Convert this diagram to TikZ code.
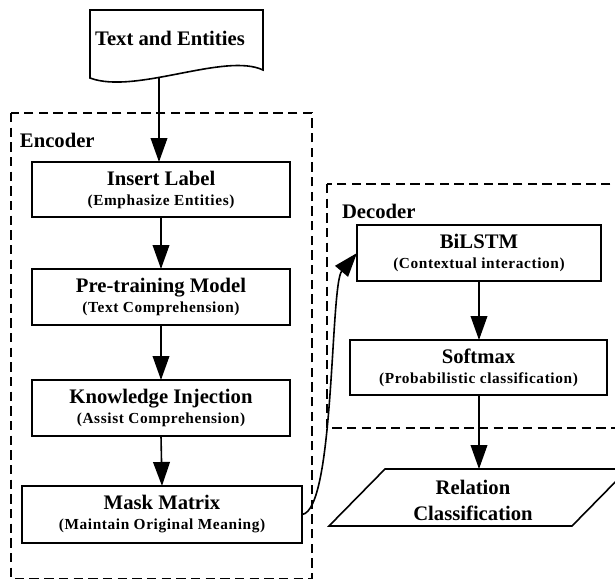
\documentclass[tikz,border=0pt]{standalone}
\usepackage{fontspec}
\setmainfont{Liberation Serif}
\newfontfamily\subfont[LetterSpace=4]{Liberation Serif}
\usetikzlibrary{arrows.meta}
\newcommand\subt[1]{{\subfont\bfseries\fontsize{11.5}{12}\selectfont #1}}
\begin{document}
\begin{tikzpicture}[x=0.75pt,y=-0.75pt,
  font=\bfseries\fontsize{15.5}{15}\selectfont,
  every node/.style={inner sep=0pt,outer sep=0pt},
  stepbox/.style={draw,line width=1.2pt,align=center},
  grp/.style={draw,line width=1.1pt,dash pattern=on 7pt off 4pt},
  flow/.style={line width=1.2pt,-{Triangle[length=18pt,width=12.5pt]}},
  shp/.style={draw,line width=1.2pt,line join=miter}]
\useasboundingbox (0,0) rectangle (615,579);
\clip (0,0) rectangle (615,579);

% groups
\draw[grp] (11,113) rectangle (312,578.5);
\draw[grp] (327,184) rectangle (650,428);
\node[anchor=west] (enc) at (20,140) {Encoder};
\node[anchor=west] (dec) at (342,211) {Decoder};

% document shape
\draw[shp] (90,10) -- (263,10) -- (263,70) .. controls (225,52) and (135,95) .. (90,78) -- cycle;
\node (tae) at (170,38) {Text and Entities};
\coordinate (docb) at (159,77);

% encoder boxes
\node[stepbox,minimum width=193.5pt,minimum height=41.25pt] (ins) at (161,189.5)
  {Insert Label\\[0pt]\subt{(Emphasize Entities)}};
\node[stepbox,minimum width=193.5pt,minimum height=42pt] (pre) at (161,297)
  {Pre-training Model\\[0pt]\subt{(Text Comprehension)}};
\node[stepbox,minimum width=193.5pt,minimum height=42pt] (kno) at (161,408)
  {Knowledge Injection\\[0pt]\subt{(Assist Comprehension)}};
\node[stepbox,minimum width=210pt,minimum height=42.75pt] (mask) at (162,514.5)
  {Mask Matrix\\[0pt]\subt{(Maintain Original Meaning)}};

% decoder boxes
\node[stepbox,minimum width=183pt,minimum height=42pt] (bil) at (479,253)
  {BiLSTM\\[0pt]\subt{(Contextual interaction)}};
\node[stepbox,minimum width=192.75pt,minimum height=41.25pt] (soft) at (478.5,367.5)
  {Softmax\\[0pt]\subt{(Probabilistic classification)}};

% output parallelogram
\draw[shp] (385,469) -- (628,469) -- (572,526) -- (329,526) -- cycle;
\node[align=center] (rel) at (473,500) {Relation\\[4.5pt]Classification};
\coordinate (relt) at (479,469);

% connectors
\draw[flow] (docb) -- (docb |- ins.north);
\draw[flow] (ins.south) -- (pre.north);
\draw[flow] (pre.south) -- (kno.north);
\draw[flow] (kno.south) -- (mask.north);
\draw[flow] (mask.east) .. controls +(33,-4) and +(-27,32) .. (bil.west);
\draw[flow] (bil.south) -- (bil.south |- soft.north);
\draw[flow] (relt |- soft.south) -- (relt);
\end{tikzpicture}
\end{document}
